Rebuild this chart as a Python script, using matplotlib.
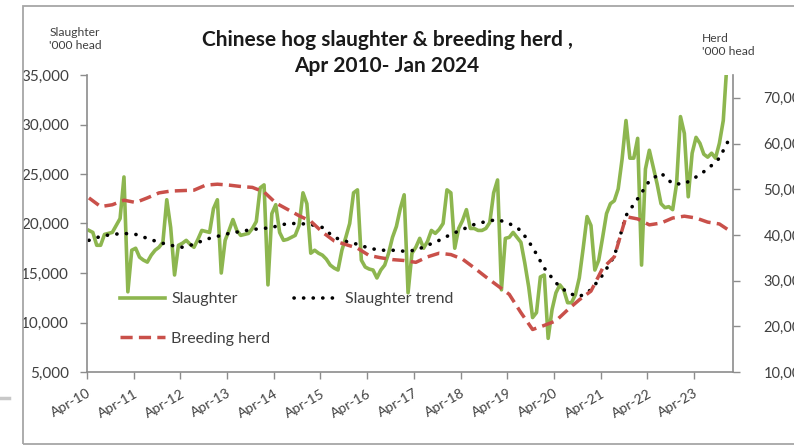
import matplotlib
matplotlib.use("Agg")
import matplotlib.pyplot as plt
from matplotlib.lines import Line2D
from matplotlib.patches import Rectangle
from matplotlib.ticker import FuncFormatter

plt.rcParams["font.family"] = ["Lato", "DejaVu Sans"]

# Monthly hog slaughter, '000 head, Apr 2010 .. Jan 2024 (one row per Apr-Mar year)
slaughter = [
    19300, 19100, 17800, 17800, 18900, 19000, 19100, 19800, 20500, 24700, 13100, 17300,
    17500, 16600, 16300, 16100, 16800, 17300, 17600, 18100, 22400, 19600, 14800, 17800,
    18000, 18300, 17900, 17600, 18400, 19300, 19200, 19100, 21500, 22400, 15000, 18300,
    19300, 20400, 19300, 18800, 18900, 19000, 19500, 20200, 23600, 23900, 13800, 21000,
    21900, 19100, 18300, 18400, 18600, 18800, 19800, 23100, 22000, 17000, 17300, 17000,
    16800, 16400, 15800, 15500, 15300, 17300, 18600, 20000, 23100, 23400, 16300, 15600,
    15400, 15300, 14500, 15300, 15800, 17000, 18600, 19700, 21500, 22900, 13000, 17000,
    17600, 18500, 17500, 18200, 19300, 19000, 19400, 20000, 23400, 23100, 17500, 19500,
    20300, 21400, 19500, 19500, 19300, 19300, 19500, 20100, 23100, 24400, 13300, 18500,
    18600, 19100, 18600, 18100, 16000, 13600, 10500, 11000, 14600, 14800, 8400, 11300,
    13000, 13800, 13300, 12000, 12000, 12800, 14500, 17500, 20700, 19800, 15300, 16300,
    18600, 21000, 22000, 22300, 23500, 26500, 30400, 26600, 26600, 28600, 15800, 25500,
    27400, 25700, 24000, 22000, 21600, 21700, 21400, 24000, 30800, 29100, 22700, 27100,
    28700, 28100, 27000, 26700, 27100, 26600, 28100, 30400, 36500, 38000,
]

# Slaughter trend and breeding herd, read every third month from Apr 2010
trend = [
    18300, 18700, 18900, 19000, 18900, 18500, 18100, 17800, 17600, 17900,
    18400, 18700, 19000, 19200, 19400, 19500, 19700, 20000, 20000, 19900,
    19600, 18600, 18200, 17900, 17500, 17300, 17300, 17200, 17300, 17800,
    18300, 18900, 19400, 19900, 20200, 20400, 20000, 19300, 17600, 15500,
    14000, 13000, 12600, 13300, 14800, 16700, 20800, 22500, 24300, 25100,
    24000, 24000, 24700, 25500, 26600, 28900,
]
herd = [
    48100, 46200, 46600, 47600, 47100, 48100, 49200, 49600, 49700, 49800,
    50900, 51100, 50900, 50600, 50400, 49400, 47000, 45600, 44200, 43000,
    40600, 38700, 37900, 37100, 35500, 35000, 34600, 34400, 34000, 35200,
    36000, 35700, 34700, 32800, 30800, 28900, 27000, 23000, 19300, 20200,
    21200, 23600, 25800, 27700, 32700, 35200, 44000, 43500, 42200, 42600,
    43700, 44100, 43700, 42800, 42400, 40700,
]

year_labels = ["Apr-10", "Apr-11", "Apr-12", "Apr-13", "Apr-14", "Apr-15", "Apr-16",
               "Apr-17", "Apr-18", "Apr-19", "Apr-20", "Apr-21", "Apr-22", "Apr-23"]

months = list(range(len(slaughter)))
quarters = list(range(0, len(slaughter), 3))

GREEN = "#8db64f"
RED = "#c9504a"
GRAY = "#8c8c8c"
TXT = "#404040"

fig = plt.figure(figsize=(7.94, 4.47), dpi=100)
W, H = 794, 447
ax = fig.add_axes([87 / W, 1 - 372 / H, (733 - 87) / W, (372 - 75) / H])
ax2 = ax.twinx()

l1, = ax.plot(months, slaughter, color=GREEN, lw=2.6, solid_joinstyle="round", label="Slaughter")
l2, = ax.plot(quarters, trend, color="black", lw=2.6, linestyle=(0, (0.05, 2.6)),
              dash_capstyle="round", label="Slaughter trend")
l3, = ax2.plot(quarters, herd, color=RED, lw=2.5, linestyle=(0, (3.5, 1.8)), label="Breeding herd")

ax.set_xlim(-0.5, 165.5)
ax.set_ylim(5000, 35000)
ax2.set_ylim(10000, 75000)
ax.set_yticks(range(5000, 35001, 5000))
ax2.set_yticks(range(10000, 70001, 10000))
ax.set_xticks([12 * k - 0.5 for k in range(len(year_labels))])
ax.set_xticklabels(year_labels, rotation=30, ha="right", rotation_mode="anchor")

fmt = FuncFormatter(lambda v, p: f"{v:,.0f}")
ax.yaxis.set_major_formatter(fmt)
ax2.yaxis.set_major_formatter(fmt)

for a in (ax, ax2):
    a.spines["top"].set_visible(False)
    for s in ("left", "right", "bottom"):
        a.spines[s].set_color(GRAY)
        a.spines[s].set_linewidth(1.2)
ax.spines["right"].set_visible(False)
ax2.spines["left"].set_visible(False)
ax2.spines["bottom"].set_visible(False)

ax.tick_params(axis="y", direction="out", length=5, width=1, color=GRAY,
               labelcolor=TXT, labelsize=11, pad=8)
ax.tick_params(axis="x", direction="out", length=5, width=1, color=GRAY,
               labelcolor=TXT, labelsize=10, pad=6)
ax2.tick_params(axis="y", direction="out", length=5, width=1, color=GRAY,
                labelcolor=TXT, labelsize=10.5, pad=17)

leg = ax.legend(handles=[l1, l3, l2], ncol=2, frameon=False, loc="upper left",
                bbox_to_anchor=(120 / W, 1 - 292 / H), bbox_transform=fig.transFigure,
                fontsize=11.5, handlelength=2.8, handletextpad=0.4, columnspacing=1.5,
                labelspacing=1.6, borderpad=0, borderaxespad=0)
for t in leg.get_texts():
    t.set_color(TXT)

fig.text(387 / W, 1 - 53 / H, "Chinese hog slaughter & breeding herd ,\nApr 2010- Jan 2024",
         ha="center", va="center", fontsize=15, fontweight="bold", color="#1a1a1a",
         linespacing=1.38)
fig.text(75 / W, 1 - 39 / H, "Slaughter\n'000 head", ha="center", va="center",
         fontsize=8.7, color=TXT, linespacing=1.25)
fig.text(702 / W, 1 - 45 / H, "Herd\n'000 head", ha="left", va="center",
         fontsize=8.7, color=TXT, linespacing=1.25)

# outer chart frame and stray mark at left edge
fig.patches.append(Rectangle((23 / W, 1 - 444 / H), (820 - 23) / W, (444 - 6) / H,
                             transform=fig.transFigure, fill=False,
                             edgecolor="#a6a6a6", lw=1.3))
fig.lines.append(Line2D([0, 9 / W], [1 - 398 / H] * 2, transform=fig.transFigure,
                        color="#c8c8c8", lw=2.5))

fig.savefig("out.png", dpi=100)
